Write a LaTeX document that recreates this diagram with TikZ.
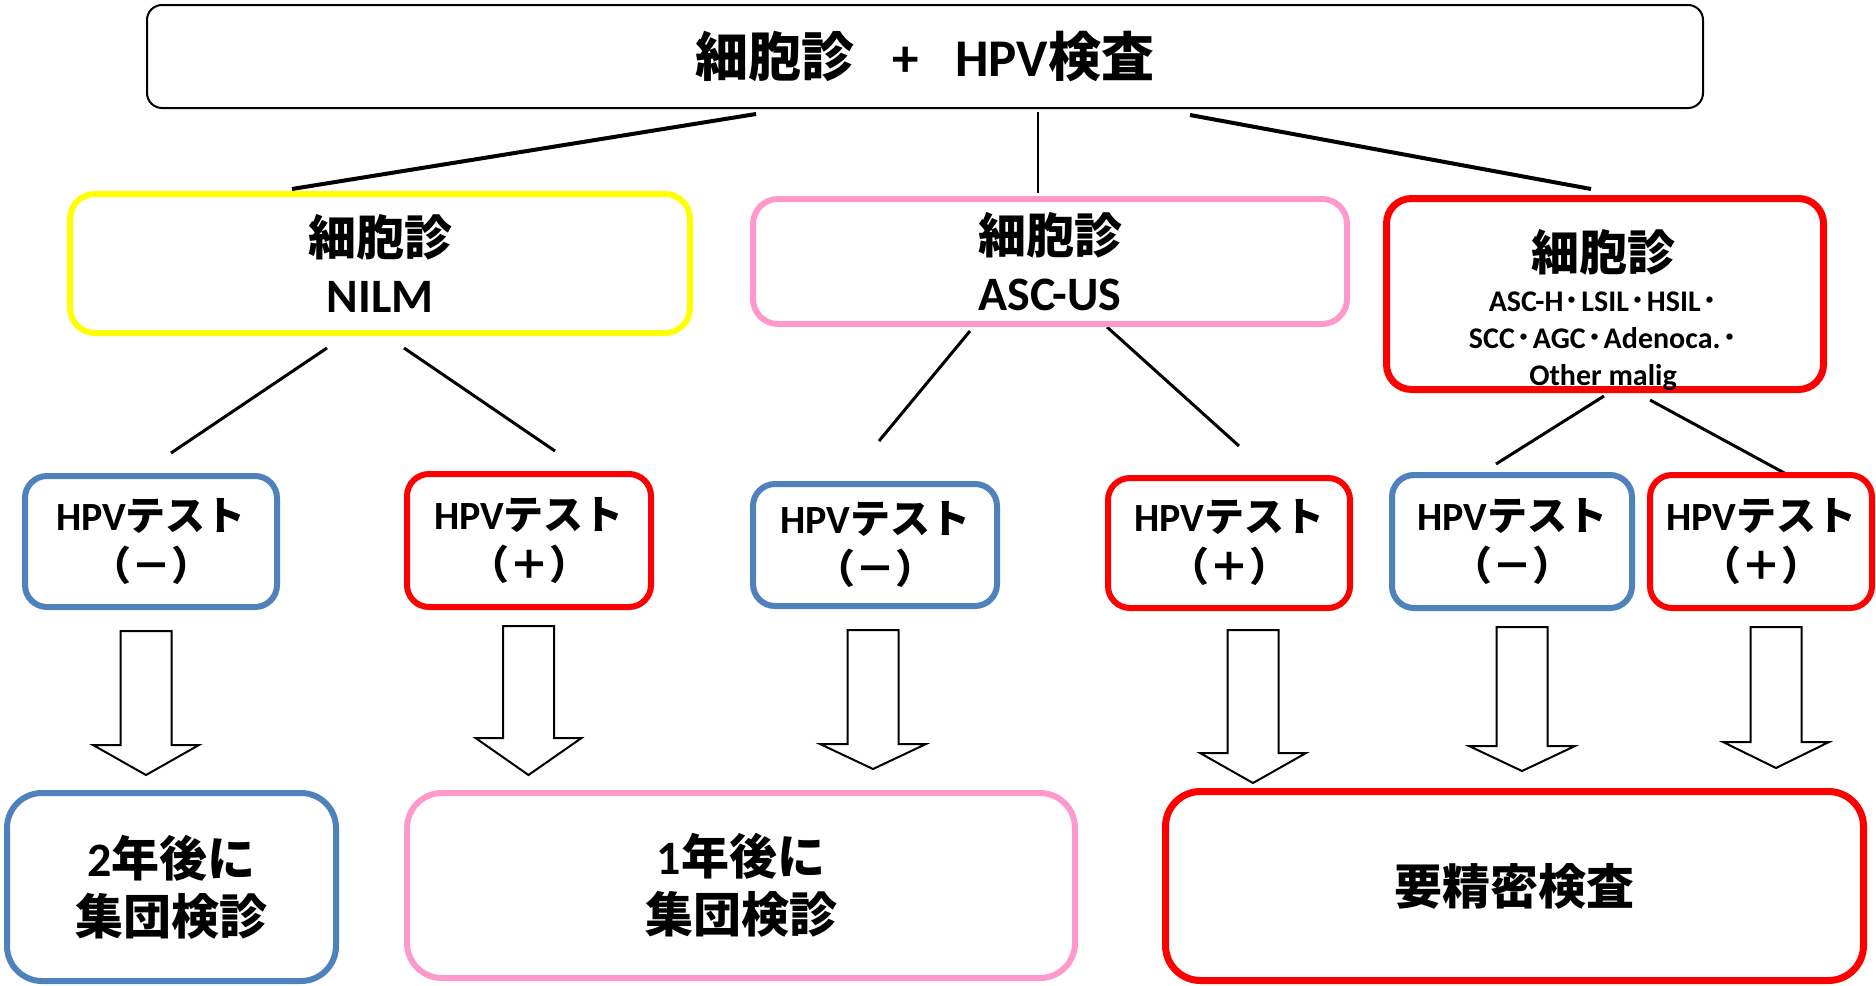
\documentclass[tikz,border=0pt]{standalone}
\usepackage{fontspec}
\setmainfont{Carlito}
\newfontfamily\jpfont{Noto Sans CJK JP}
\newcommand\J[1]{{\jpfont #1}}
\newcommand\dt{\hspace{1.5pt}\J{･}\hspace{1.5pt}}
\definecolor{myyellow}{HTML}{FFFF00}
\definecolor{mypink}{HTML}{FF99CC}
\definecolor{myred}{HTML}{FF0000}
\definecolor{myblue}{HTML}{4F81BD}
\newcommand\BlockArr[4]{\draw[blockarr] (#1-25.5,#2) -- (#1+25.5,#2) -- (#1+25.5,#3) -- (#1+53,#3) -- (#1,#4) -- (#1-53,#3) -- (#1-25.5,#3) -- cycle;}
\begin{document}
\begin{tikzpicture}[x=1pt,y=-1pt,
  box/.style={draw, align=center, inner sep=0pt},
  topbox/.style={box, draw=black, line width=2pt, rounded corners=15pt, font=\bfseries\fontsize{53}{60}\selectfont},
  lvtwo/.style={box, line width=6pt, rounded corners=25pt, font=\bfseries\fontsize{48}{57}\selectfont},
  lvthree/.style={box, line width=6pt, rounded corners=22pt, font=\bfseries\fontsize{40}{50}\selectfont},
  result/.style={box, line width=6pt, rounded corners=35pt, font=\bfseries\fontsize{48}{58}\selectfont},
  thickline/.style={draw=black, line width=4pt},
  thinline/.style={draw=black, line width=2pt},
  midline/.style={draw=black, line width=3pt},
  blockarr/.style={draw=black, fill=white, line width=2pt, line join=miter}]
\fill[white] (0,0) rectangle (1876,985);
\useasboundingbox (0,0) rectangle (1876,985);

% connector end points
\coordinate (t-l) at (756,114);   \coordinate (nilm-in) at (292,189);
\coordinate (t-c) at (1038,112);  \coordinate (ascus-in) at (1038,193);
\coordinate (t-r) at (1190,115);  \coordinate (high-in) at (1591,189);
\coordinate (nilm-l) at (327,348); \coordinate (b1-in) at (171,453);
\coordinate (nilm-r) at (404,348); \coordinate (b2-in) at (555,451);
\coordinate (ascus-l) at (970,331); \coordinate (b3-in) at (879,441);
\coordinate (ascus-r) at (1107,327); \coordinate (b4-in) at (1239,446);
\coordinate (high-l) at (1604,396); \coordinate (b5-in) at (1496,464);
\coordinate (high-r) at (1650,400); \coordinate (b6-in) at (1788,475);

\draw[thickline] (t-l) -- (nilm-in);
\draw[thinline] (t-c) -- (ascus-in);
\draw[thickline] (t-r) -- (high-in);
\draw[midline] (nilm-l) -- (b1-in);
\draw[midline] (nilm-r) -- (b2-in);
\draw[midline] (ascus-l) -- (b3-in);
\draw[midline] (ascus-r) -- (b4-in);
\draw[midline] (high-l) -- (b5-in);
\draw[midline] (high-r) -- (b6-in);

% top
\node[topbox, minimum width=1556pt, minimum height=103pt] (top) at (925,56.5)
  {\J{細胞診}\hspace{38pt}+\hspace{36pt}HPV\J{検査}};

% level 2
\node[lvtwo, draw=myyellow, minimum width=620pt, minimum height=139pt] (nilm) at (380,263.5) {\J{細胞診}\\NILM};
\node[lvtwo, draw=mypink, minimum width=594pt, minimum height=125pt] (ascus) at (1050,261.5) {\J{細胞診}\\ASC-US};
\node[lvtwo, draw=myred, line width=7pt, minimum width=437pt, minimum height=191pt] (high) at (1605,294) {};
\node[font=\bfseries\fontsize{30}{37}\selectfont, align=center, inner sep=0pt] (hight) at (1603,310)
  {{\fontsize{48}{48}\selectfont\J{細胞診}}\\[4pt]ASC-H\dt LSIL\dt HSIL\dt\\SCC\dt AGC\dt Adenoca.\dt\\Other malig};

% level 3
\node[lvthree, draw=myblue, minimum width=252pt, minimum height=131pt] (b1) at (151,541.5) {HPV\J{テスト}\\\J{（－）}};
\node[lvthree, draw=myred, minimum width=244pt, minimum height=133pt] (b2) at (529,540.5) {HPV\J{テスト}\\\J{（＋）}};
\node[lvthree, draw=myblue, minimum width=244pt, minimum height=122pt] (b3) at (875,545) {HPV\J{テスト}\\\J{（－）}};
\node[lvthree, draw=myred, minimum width=242pt, minimum height=130pt] (b4) at (1229,543) {HPV\J{テスト}\\\J{（＋）}};
\node[lvthree, draw=myblue, minimum width=240pt, minimum height=133pt] (b5) at (1512,541.5) {HPV\J{テスト}\\\J{（－）}};
\node[lvthree, draw=myred, minimum width=222pt, minimum height=133pt] (b6) at (1761,541.5) {HPV\J{テスト}\\\J{（＋）}};

% block arrows
\BlockArr{146}{631}{745}{775}
\BlockArr{528.5}{626}{738}{775}
\BlockArr{873}{630}{744}{769}
\BlockArr{1253}{630}{753}{783}
\BlockArr{1522}{627}{746}{771}
\BlockArr{1776}{627}{742}{768}

% results
\node[result, draw=myblue, minimum width=329pt, minimum height=188pt] (c1) at (171.5,887) {2\J{年後に}\\\J{集団検診}};
\node[result, draw=mypink, minimum width=668pt, minimum height=185pt] (c2) at (741,885.5) {1\J{年後に}\\\J{集団検診}};
\node[result, draw=myred, line width=7pt, minimum width=698pt, minimum height=189pt] (c3) at (1514.5,886) {\J{要精密検査}};
\end{tikzpicture}
\end{document}
